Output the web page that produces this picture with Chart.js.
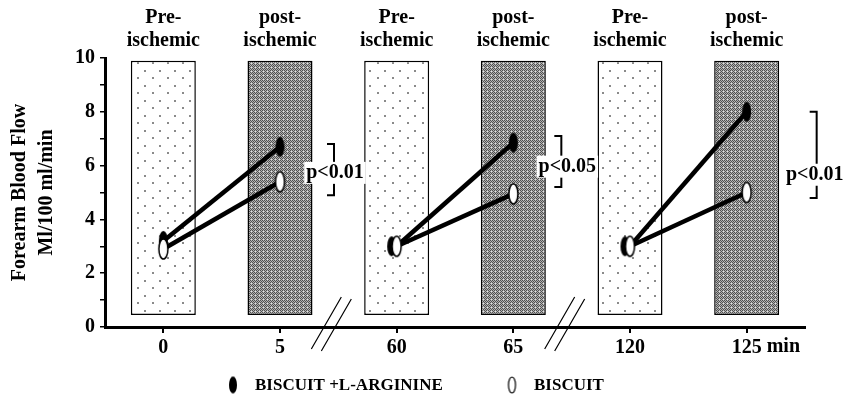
<!DOCTYPE html>
<html>
<head>
<meta charset="utf-8">
<script src="https://cdn.jsdelivr.net/npm/chart.js@4"></script>
<style>
  html, body { margin: 0; padding: 0; background: #fff; }
  #wrap { width: 852px; height: 411px; position: relative; }
</style>
</head>
<body>
<div id="wrap"><canvas id="flowChart"></canvas></div>
<script>
// Forearm blood flow before / after ischemia
const categories = ['0', '5', '60', '65', '120', '125'];
const xUnit = 'min';
const phaseTop = ['Pre-', 'post-', 'Pre-', 'post-', 'Pre-', 'post-'];
const phaseBottom = ['ischemic', 'ischemic', 'ischemic', 'ischemic', 'ischemic', 'ischemic'];
const boxLow = [0.45, 0.45, 0.45, 0.45, 0.45, 0.45];
const boxHigh = [9.9, 9.9, 9.9, 9.9, 9.9, 9.9];
const argininePoints = [3.2, 6.7, 3.0, 6.85, 3.0, 8.0];
const biscuitPoints = [2.9, 5.4, 3.0, 4.95, 3.0, 5.0];
const yTicks = [0, 2, 4, 6, 8, 10];
const pLabels = ['p<0.01', 'p<0.05', 'p<0.01'];
const pAt = [1, 3, 5];
const pTop = [6.8, 7.1, 8.0];
const pBottom = [4.9, 5.2, 4.8];
const pTextAt = [5.73, 5.96, 5.66];
const breakAfter = [1, 3];

const serif = '"Liberation Serif", "Times New Roman", serif';
const boldFont = size => 'bold ' + size + 'px ' + serif;

// fills for the two kinds of boxes
function dotPattern() {
  const c = document.createElement('canvas');
  c.width = 15; c.height = 15;
  const g = c.getContext('2d');
  g.fillStyle = '#fff';
  g.fillRect(0, 0, 15, 15);
  g.fillStyle = '#8a8a8a';
  g.fillRect(2, 2, 2, 2);
  g.fillRect(9, 10, 2, 2);
  return g.createPattern(c, 'repeat');
}
function darkPattern() {
  const c = document.createElement('canvas');
  c.width = 4; c.height = 4;
  const g = c.getContext('2d');
  g.fillStyle = '#b4b4b4';
  g.fillRect(0, 0, 4, 4);
  g.fillStyle = '#505050';
  g.fillRect(0, 0, 1, 1);
  g.fillRect(2, 0, 1, 1);
  g.fillRect(1, 1, 1, 1);
  g.fillRect(3, 1, 1, 1);
  g.fillRect(0, 2, 1, 1);
  g.fillRect(2, 2, 1, 1);
  g.fillRect(1, 3, 1, 1);
  g.fillStyle = '#e0e0e0';
  g.fillRect(3, 3, 1, 1);
  return g.createPattern(c, 'repeat');
}
const dots = dotPattern();
const dark = darkPattern();
const boxFill = categories.map((c, i) => i % 2 ? dark : dots);

// upright ellipse markers
function ellipse(w, h, fill, stroke, lw, shift) {
  shift = shift || 0;
  const c = document.createElement('canvas');
  c.width = Math.ceil(w + 4 + Math.abs(shift) * 2);
  c.height = Math.ceil(h + 4);
  const g = c.getContext('2d');
  g.beginPath();
  g.ellipse(c.width / 2 + shift, c.height / 2, w / 2, h / 2, 0, 0, Math.PI * 2);
  g.fillStyle = fill;
  g.fill();
  if (stroke) { g.lineWidth = lw; g.strokeStyle = stroke; g.stroke(); }
  return c;
}
const blackDot = ellipse(9, 20, '#000');
const blackDotLeft = ellipse(9, 20, '#000', null, 0, -5);
const whiteDot = ellipse(9, 20, '#fff', '#000', 1.5);
const blackKey = ellipse(8, 17, '#000');
const whiteKey = ellipse(7, 16, '#fff', '#000', 1.2);

const hideGaps = s => s.p0DataIndex % 2 ? 'rgba(0,0,0,0)' : '#000';

const decor = {
  id: 'decor',
  afterDatasetsDraw(chart) {
    const { ctx, scales: { x, y } } = chart;
    ctx.save();
    ctx.fillStyle = '#000';
    ctx.strokeStyle = '#000';

    // phase captions over each box
    ctx.font = boldFont(20);
    ctx.textAlign = 'center';
    ctx.textBaseline = 'middle';
    categories.forEach((c, i) => {
      const px = x.getPixelForValue(i);
      ctx.fillText(phaseTop[i], px, 18);
      ctx.fillText(phaseBottom[i], px, 41);
    });

    // axis breaks
    const y0 = y.getPixelForValue(0);
    ctx.lineWidth = 1.2;
    breakAfter.forEach(i => {
      const c = (x.getPixelForValue(i) + x.getPixelForValue(i + 1)) / 2 - 6;
      ctx.beginPath();
      ctx.moveTo(c - 21, y0 + 22); ctx.lineTo(c + 9, y0 - 30);
      ctx.moveTo(c - 11, y0 + 24); ctx.lineTo(c + 19, y0 - 28);
      ctx.stroke();
    });

    // significance brackets
    const bracketDx = [54, 48, 70];
    const textDx = [55, 54, 68];
    ctx.lineWidth = 2;
    pLabels.forEach((t, k) => {
      const px = x.getPixelForValue(pAt[k]);
      const bx = px + bracketDx[k];
      const yt = y.getPixelForValue(pTop[k]);
      const yb = y.getPixelForValue(pBottom[k]);
      ctx.beginPath();
      ctx.moveTo(bx - 7, yt); ctx.lineTo(bx, yt); ctx.lineTo(bx, yb); ctx.lineTo(bx - 7, yb);
      ctx.stroke();
      const tx = px + textDx[k];
      const ty = y.getPixelForValue(pTextAt[k]);
      const w = ctx.measureText(t).width;
      ctx.fillStyle = '#fff';
      ctx.fillRect(tx - w / 2 - 2, ty - 11, w + 4, 22);
      ctx.fillStyle = '#000';
      ctx.fillText(t, tx, ty);
    });

    // unit after the last time label
    const last = categories.length - 1;
    const lx = x.getPixelForValue(last);
    ctx.textAlign = 'left';
    ctx.textBaseline = 'top';
    ctx.fillText(xUnit, lx + ctx.measureText(categories[last]).width / 2 + 5, x.top + 10);

    // key
    const keys = [blackKey, whiteKey];
    const keyX = [233, 512];
    ctx.font = boldFont(17);
    ctx.textBaseline = 'middle';
    chart.data.datasets.filter(d => d.type === 'line').forEach((d, i) => {
      const img = keys[i];
      ctx.drawImage(img, keyX[i] - img.width / 2, 385 - img.height / 2);
      ctx.fillText(d.label, keyX[i] + 22, 386);
    });
    ctx.restore();
  }
};

new Chart(document.getElementById('flowChart'), {
  type: 'bar',
  data: {
    labels: categories,
    datasets: [
      {
        type: 'line',
        label: 'BISCUIT +L-ARGININE',
        data: argininePoints,
        order: 2,
        borderColor: '#000',
        borderWidth: 4.5,
        pointStyle: c => (c.dataIndex === 2 || c.dataIndex === 4) ? blackDotLeft : blackDot,
        pointRadius: 6,
        segment: { borderColor: hideGaps }
      },
      {
        type: 'line',
        label: 'BISCUIT',
        data: biscuitPoints,
        order: 1,
        borderColor: '#000',
        borderWidth: 4.5,
        pointStyle: whiteDot,
        pointRadius: 6,
        segment: { borderColor: hideGaps }
      },
      {
        type: 'bar',
        label: 'phase',
        data: boxLow.map((lo, i) => [lo, boxHigh[i]]),
        order: 3,
        backgroundColor: boxFill,
        borderColor: '#000',
        borderWidth: 1.5,
        borderSkipped: false,
        barPercentage: 0.557,
        categoryPercentage: 1
      }
    ]
  },
  options: {
    responsive: true,
    maintainAspectRatio: false,
    animation: false,
    events: [],
    layout: { padding: { top: 58, right: 47, bottom: 44, left: 0 } },
    plugins: {
      legend: { display: false },
      tooltip: { enabled: false }
    },
    scales: {
      x: {
        offset: true,
        grid: { offset: false, drawOnChartArea: false, color: '#000', lineWidth: 2, tickLength: 6 },
        border: { color: '#000', width: 3 },
        ticks: { color: '#000', font: { family: serif, size: 20, weight: 'bold' }, padding: 3, maxRotation: 0, autoSkip: false },
        afterFit: s => { s.height = 40; }
      },
      y: {
        min: 0,
        max: 10,
        ticks: {
          stepSize: 1,
          autoSkip: false,
          color: '#000',
          padding: 5,
          font: { family: serif, size: 20, weight: 'bold' },
          callback: v => yTicks.includes(v) ? String(v) : ''
        },
        grid: { drawOnChartArea: false, color: '#000', lineWidth: 1.5, tickLength: 5 },
        border: { color: '#000', width: 3 },
        title: {
          display: true,
          text: ['Forearm Blood Flow', 'Ml/100 ml/min'],
          color: '#000',
          font: { family: serif, size: 20, weight: 'bold', lineHeight: 1.35 },
          padding: { top: 6, bottom: 0 }
        },
        afterFit: s => { s.width = 105; }
      }
    }
  },
  plugins: [decor]
});
</script>
</body>
</html>
